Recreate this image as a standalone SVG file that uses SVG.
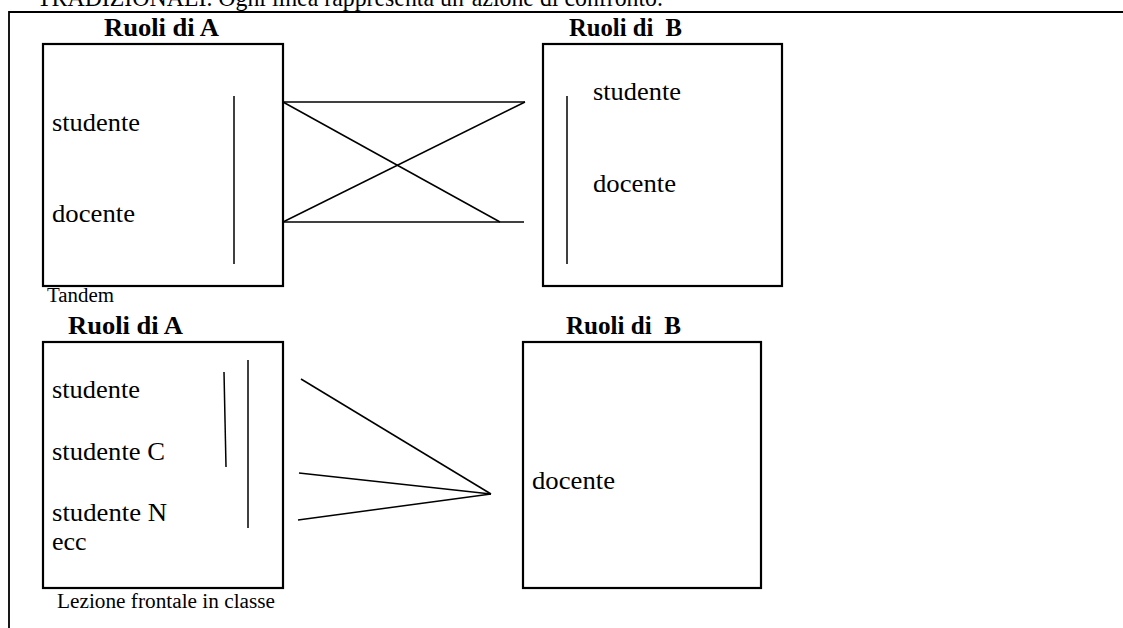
<svg xmlns="http://www.w3.org/2000/svg" width="1123" height="628" viewBox="0 0 1123 628">
<style>
text{font-family:"Liberation Serif","Times New Roman",serif;fill:#000;white-space:pre}
.t{font-size:26px;font-weight:bold}
.l{font-size:26px}
.s{font-size:20px}
.box{fill:#fff;stroke:#000;stroke-width:2.2}
.ln{stroke:#000;stroke-width:1.5;fill:none}
</style>
<rect width="1123" height="628" fill="#fff"/>
<text class="l" x="37" y="6" textLength="626" lengthAdjust="spacingAndGlyphs">TRADIZIONALI. Ogni linea rappresenta un’azione di confronto.</text>
<path d="M9,628 V12 H1123" fill="none" stroke="#000" stroke-width="1.8"/>
<g id="a1">
<text class="t" x="104" y="36" textLength="115" lengthAdjust="spacingAndGlyphs">Ruoli di A</text>
<rect class="box" x="43" y="44" width="240" height="242"/>
<text class="l" x="52" y="131" textLength="88" lengthAdjust="spacingAndGlyphs">studente</text>
<text class="l" x="52" y="222" textLength="83" lengthAdjust="spacingAndGlyphs">docente</text>
<line class="ln" x1="234" y1="96" x2="234" y2="264"/>
</g>
<g id="b1">
<text class="t" x="569" y="36" textLength="113" lengthAdjust="spacingAndGlyphs">Ruoli di  B</text>
<rect class="box" x="543" y="44" width="239" height="242"/>
<text class="l" x="593" y="100" textLength="88" lengthAdjust="spacingAndGlyphs">studente</text>
<text class="l" x="593" y="192" textLength="83" lengthAdjust="spacingAndGlyphs">docente</text>
<line class="ln" x1="567" y1="96" x2="567" y2="264"/>
<text class="s" x="47" y="302" textLength="67" lengthAdjust="spacingAndGlyphs">Tandem</text>
</g>
<g id="a2">
<text class="t" x="68" y="334" textLength="115" lengthAdjust="spacingAndGlyphs">Ruoli di A</text>
<rect class="box" x="43" y="342" width="240" height="246"/>
<text class="l" x="52" y="398" textLength="88" lengthAdjust="spacingAndGlyphs">studente</text>
<text class="l" x="52" y="460" textLength="113" lengthAdjust="spacingAndGlyphs">studente C</text>
<text class="l" x="52" y="521" textLength="115" lengthAdjust="spacingAndGlyphs">studente N</text>
<text class="l" x="52" y="550">ecc</text>
<line class="ln" x1="224" y1="372" x2="226" y2="467"/>
<line class="ln" x1="248" y1="360" x2="248" y2="528"/>
<text class="s" x="57" y="608" textLength="218" lengthAdjust="spacingAndGlyphs">Lezione frontale in classe</text>
</g>
<g id="b2">
<text class="t" x="566" y="334" textLength="115" lengthAdjust="spacingAndGlyphs">Ruoli di  B</text>
<rect class="box" x="523" y="342" width="238" height="246"/>
<text class="l" x="532" y="489" textLength="83" lengthAdjust="spacingAndGlyphs">docente</text>
</g>
<g id="connectors">
<line class="ln" x1="283" y1="102" x2="525" y2="102"/>
<line class="ln" x1="283" y1="222" x2="524" y2="222"/>
<line class="ln" x1="283" y1="102" x2="500" y2="222"/>
<line class="ln" x1="283" y1="222" x2="525" y2="102"/>
<line class="ln" x1="301" y1="379" x2="491" y2="494"/>
<line class="ln" x1="299" y1="473" x2="491" y2="494"/>
<line class="ln" x1="298" y1="520" x2="491" y2="494"/>
</g>
</svg>
